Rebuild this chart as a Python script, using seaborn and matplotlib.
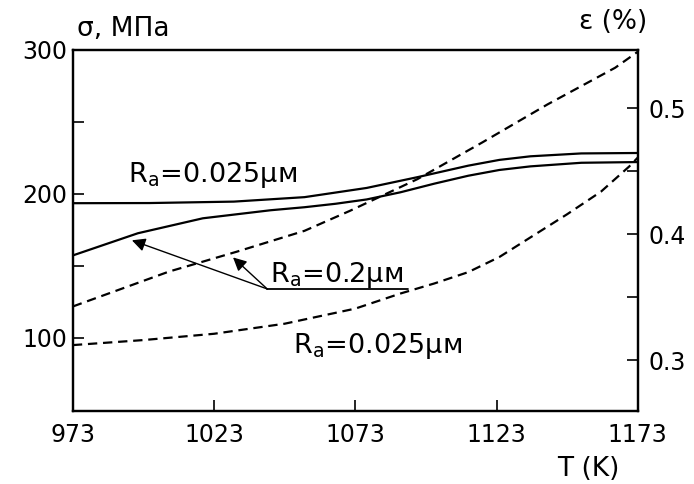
import numpy as np
import pandas as pd
import matplotlib
matplotlib.use("Agg")
import matplotlib.pyplot as plt
import seaborn as sns

# stress curves (left axis, MPa)
t_sig_smooth = [973, 1000, 1030, 1055, 1077, 1095, 1113, 1124, 1135, 1153, 1173]
sig_smooth = [193.4, 193.5, 194.5, 197.6, 204.0, 211.5, 219.5, 223.5, 226.0, 228.0, 228.3]
t_sig_rough = [973, 996, 1019, 1043, 1055, 1066, 1077, 1089, 1101, 1113, 1124, 1135, 1153, 1173]
sig_rough = [157.1, 172.5, 182.9, 188.5, 190.6, 193.0, 196.0, 201.0, 207.0, 212.5, 216.5,
             219.0, 221.5, 222.0]

# strain curves (right axis, %)
t_eps_rough = [973, 1007, 1031, 1055, 1071, 1095, 1118, 1141, 1165, 1173]
eps_rough = [0.3427, 0.3704, 0.3862, 0.4028, 0.4186, 0.4439, 0.4731, 0.5032, 0.5324, 0.5451]
t_eps_smooth = [973, 998, 1023, 1048, 1073, 1089, 1101, 1113, 1124, 1136, 1148, 1160, 1170, 1173]
eps_smooth = [0.312, 0.316, 0.321, 0.329, 0.341, 0.353, 0.361, 0.370, 0.382, 0.399,
              0.416, 0.434, 0.454, 0.461]

x_ticks = [973, 1023, 1073, 1123, 1173]
left_ticks = [100, 150, 200, 250, 300]
left_labels = ["100", "", "200", "", "300"]
right_ticks = [0.3, 0.35, 0.4, 0.45, 0.5]
right_labels = ["0.3", "", "0.4", "", "0.5"]

# annotation for Ra=0.2 (tail, arrow tips, underline end)
tail = (1041.8, 133.8)
tips = [(993.9, 167.6), (1029.7, 155.7)]
underline_end = 1091.8

sns.set_style("ticks")
plt.rcParams["font.family"] = ["DejaVu Sans"]
plt.rcParams["mathtext.fontset"] = "dejavusans"
for k in ["text.color", "axes.labelcolor", "xtick.color", "ytick.color", "axes.edgecolor"]:
    plt.rcParams[k] = "black"

fig, ax = plt.subplots(figsize=(6.94, 4.84), dpi=100)
fig.subplots_adjust(left=0.105, right=0.919, bottom=0.151, top=0.897)
ax2 = ax.twinx()

lw = 1.6
dash = (0, (4.2, 2.6))
sns.lineplot(x=t_sig_smooth, y=sig_smooth, ax=ax, color="black", lw=lw)
sns.lineplot(x=t_sig_rough, y=sig_rough, ax=ax, color="black", lw=lw)
sns.lineplot(x=t_eps_rough, y=eps_rough, ax=ax2, color="black", lw=lw, linestyle=dash)
sns.lineplot(x=t_eps_smooth, y=eps_smooth, ax=ax2, color="black", lw=lw, linestyle=dash)

ax.set_xlim(973, 1173)
ax.set_ylim(49, 300)
ax2.set_ylim(0.2597, 0.5466)

ax.set_xticks(x_ticks)
ax.set_yticks(left_ticks)
ax.set_yticklabels(left_labels)
ax2.set_yticks(right_ticks)
ax2.set_yticklabels(right_labels)

ax.tick_params(axis="x", direction="in", length=8, width=1.2, labelsize=17, pad=9, top=False)
ax.tick_params(axis="y", direction="in", length=8, width=1.2, labelsize=17, pad=4, right=False)
ax2.tick_params(axis="y", direction="in", length=8, width=1.2, labelsize=17, pad=8)

for a in (ax, ax2):
    for s in a.spines.values():
        s.set_linewidth(1.6)
        s.set_color("black")
        s.set_visible(True)

# text labels
ax.text(992.5, 208, r"R$_{\mathregular{a}}$=0.025μм", fontsize=19.5, va="baseline", ha="left")
ax.text(1042.9, 138.3, r"R$_{\mathregular{a}}$=0.2μм", fontsize=19.5, va="baseline", ha="left")
ax.text(1051, 89.5, r"R$_{\mathregular{a}}$=0.025μм", fontsize=19.5, va="baseline", ha="left")

ax.plot([tail[0], underline_end], [tail[1], tail[1]], color="black", lw=1.3)
for tip in tips:
    ax.annotate("", xy=tip, xytext=tail,
                arrowprops=dict(arrowstyle="-|>", color="black", lw=1.0,
                                mutation_scale=20, shrinkA=0, shrinkB=0))

fig.text(0.111, 0.926, "σ, МПа", fontsize=19, va="baseline", ha="left")
fig.text(0.834, 0.94, "ε (%)", fontsize=19, va="baseline", ha="left")
fig.text(0.803, 0.0165, "T (K)", fontsize=19, va="baseline", ha="left")

ax.set_xlabel("")
ax.set_ylabel("")
ax2.set_ylabel("")

fig.savefig("out.png", dpi=100)
